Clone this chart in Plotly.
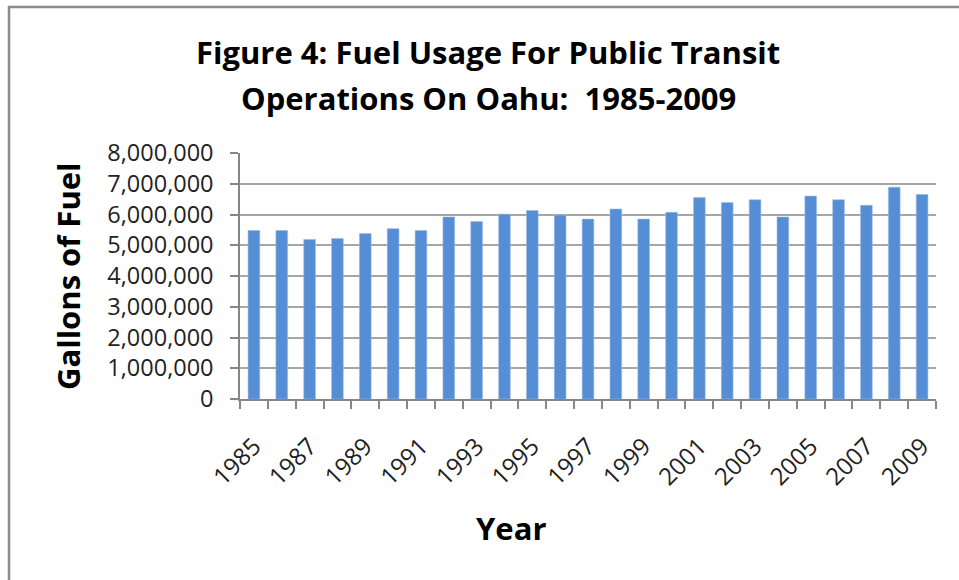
import plotly.graph_objects as go

# Fuel usage for public transit on Oahu
years = [1985, 1986, 1987, 1988, 1989, 1990, 1991, 1992, 1993, 1994, 1995, 1996, 1997,
         1998, 1999, 2000, 2001, 2002, 2003, 2004, 2005, 2006, 2007, 2008, 2009]
gallons = [5480000, 5480000, 5190000, 5220000, 5380000, 5540000, 5480000, 5920000,
           5770000, 6010000, 6130000, 5980000, 5850000, 6180000, 5850000, 6070000,
           6550000, 6390000, 6480000, 5920000, 6600000, 6480000, 6300000, 6890000,
           6650000]
label_years = years[::2]
y_ticks = [0, 1000000, 2000000, 3000000, 4000000, 5000000, 6000000, 7000000, 8000000]

FONT = "Open Sans"
GRID = "#a6a6a6"
AXIS = "#868686"

W, H = 959, 580
L, R, T, B = 240, 23, 153, 181
pw, ph = W - L - R, H - T - B


def px_x(x):
    return (x - L) / pw


def px_y(y):
    return (H - B - y) / ph


fig = go.Figure()
fig.add_trace(go.Bar(
    x=years, y=gallons, width=0.42,
    marker=dict(color="#558ED5", line=dict(color="#9dbbe6", width=0.6)),
))

# boundary ticks between the year categories
boundaries = [y - 0.5 for y in years] + [years[-1] + 0.5]

fig.update_xaxes(
    range=[years[0] - 0.5, years[-1] + 0.5],
    tickmode="array", tickvals=label_years, ticktext=[str(y) for y in label_years],
    tickangle=-45, ticks="outside", ticklen=10, tickcolor="rgba(0,0,0,0)",
    ticklabelstandoff=12,
    tickfont=dict(family=FONT, size=24, color="#222"),
    showline=True, linecolor=AXIS, linewidth=1.5, showgrid=False, zeroline=False,
    minor=dict(tickmode="array", tickvals=boundaries, ticks="outside", ticklen=8,
               tickcolor=AXIS, tickwidth=1.5, showgrid=False),
)
fig.update_yaxes(
    range=[0, 8000000], tickmode="array", tickvals=y_ticks, tickformat=",d",
    ticks="outside", ticklen=8, tickcolor=AXIS, tickwidth=1.5,
    tickfont=dict(family=FONT, size=23.5, color="#222"), ticklabelstandoff=12,
    showline=True, linecolor=AXIS, linewidth=1.5,
    showgrid=True, gridcolor=GRID, gridwidth=1.5, zeroline=False,
)

title_font = dict(family=FONT, size=31, color="black")
fig.add_annotation(xref="paper", yref="paper", x=px_x(488), y=px_y(52),
                   text="<b>Figure 4: Fuel Usage For Public Transit</b>",
                   showarrow=False, font=title_font, xanchor="center", yanchor="middle")
fig.add_annotation(xref="paper", yref="paper", x=px_x(488), y=px_y(98),
                   text="<b>Operations On Oahu:  1985-2009</b>",
                   showarrow=False, font=title_font, xanchor="center", yanchor="middle")
fig.add_annotation(xref="paper", yref="paper", x=px_x(68), y=px_y(276),
                   text="<b>Gallons of Fuel</b>", textangle=-90,
                   showarrow=False, font=title_font, xanchor="center", yanchor="middle")
fig.add_annotation(xref="paper", yref="paper", x=px_x(511), y=px_y(528),
                   text="<b>Year</b>",
                   showarrow=False, font=title_font, xanchor="center", yanchor="middle")

# outer chart border (right and bottom edges fall outside the picture)
fig.add_shape(type="rect", xref="paper", yref="paper",
              x0=px_x(9), x1=px_x(1000), y0=px_y(620), y1=px_y(7),
              line=dict(color="#8c8c8c", width=2.5), fillcolor="rgba(0,0,0,0)", layer="below")

fig.update_layout(
    width=W, height=H,
    margin=dict(l=L, r=R, t=T, b=B),
    plot_bgcolor="white", paper_bgcolor="white",
    showlegend=False,
)

fig.write_html("out.html", config={"displayModeBar": False},
               post_script="document.body.style.margin='0';")
